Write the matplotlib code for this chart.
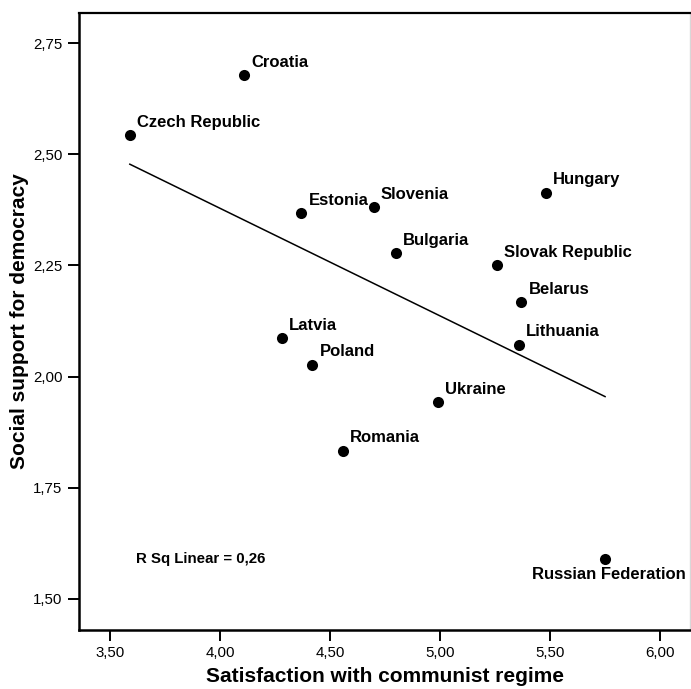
import numpy as np
import matplotlib
matplotlib.use("Agg")
import matplotlib.pyplot as plt
from matplotlib.ticker import FuncFormatter

plt.rcParams['font.family'] = ['Liberation Sans', 'DejaVu Sans']

countries = ["Croatia", "Czech Republic", "Estonia", "Slovenia", "Hungary",
             "Bulgaria", "Slovak Republic", "Belarus", "Latvia", "Lithuania",
             "Poland", "Ukraine", "Romania", "Russian Federation"]
satisfaction = [4.11, 3.59, 4.37, 4.70, 5.48, 4.80, 5.26, 5.37, 4.28, 5.36,
                4.42, 4.99, 4.56, 5.75]
support = [2.678, 2.543, 2.367, 2.381, 2.414, 2.278, 2.250, 2.167, 2.087, 2.072,
           2.027, 1.942, 1.833, 1.589]
r_sq_text = "R Sq Linear = 0,26"

x = np.array(satisfaction)
y = np.array(support)

fig = plt.figure(figsize=(6.91, 6.89), dpi=100)
ax = fig.add_axes([79 / 691, 59.5 / 689, 611 / 691, 616.5 / 689])

# fitted linear trend across the observed range
slope, intercept = np.polyfit(x, y, 1)
xs = np.array([x.min(), x.max()])
ax.plot(xs, slope * xs + intercept, color='black', lw=1.1, zorder=2)

ax.scatter(x, y, s=64, color='black', zorder=3, linewidths=0)

for name, xi, yi in zip(countries, satisfaction, support):
    if name == "Russian Federation":
        ax.annotate(name, (xi, yi), xytext=(3, -14.5), textcoords='offset points',
                    ha='center', va='baseline', fontsize=12, fontweight='bold')
    else:
        ax.annotate(name, (xi, yi), xytext=(5, 6), textcoords='offset points',
                    ha='left', va='baseline', fontsize=12, fontweight='bold')

ax.text(3.62, 1.580, r_sq_text, ha='left', va='baseline', fontsize=10.8,
        fontweight='bold')

ax.set_xlim(3.359, 6.136)
ax.set_ylim(1.431, 2.818)
ax.set_xticks([3.5, 4.0, 4.5, 5.0, 5.5, 6.0])
ax.set_yticks([1.5, 1.75, 2.0, 2.25, 2.5, 2.75])
fmt = FuncFormatter(lambda v, p: f"{v:.2f}".replace('.', ','))
ax.xaxis.set_major_formatter(fmt)
ax.yaxis.set_major_formatter(fmt)
ax.tick_params(axis='both', direction='out', length=8, width=1.4,
               labelsize=10.8, colors='black', pad=4)

for side in ('left', 'bottom'):
    ax.spines[side].set_linewidth(1.8)
ax.spines['top'].set_linewidth(1.6)
ax.spines['right'].set_color('#d8d8d8')
ax.spines['right'].set_linewidth(1.0)

ax.set_xlabel("Satisfaction with communist regime", fontsize=15,
              fontweight='bold', labelpad=5)
ax.set_ylabel("Social support for democracy", fontsize=15,
              fontweight='bold', labelpad=3)

fig.savefig("out.png", dpi=100)
